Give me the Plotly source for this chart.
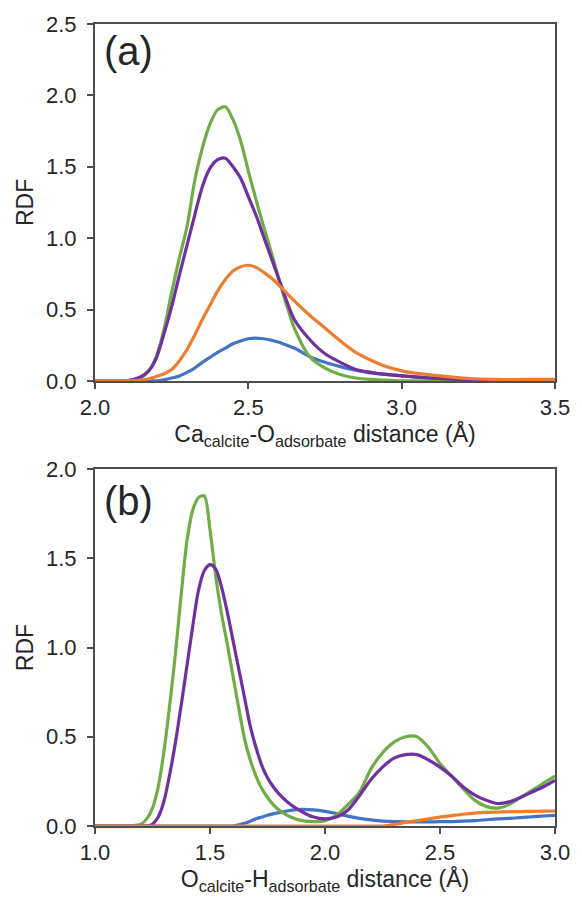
import plotly.graph_objects as go

# ---- Panel (a): Ca(calcite)-O(adsorbate) radial distribution ----
r_ca_o = [2.00, 2.10, 2.15, 2.175, 2.20, 2.225, 2.25, 2.275, 2.30, 2.325, 2.35,
          2.375, 2.40, 2.425, 2.45, 2.475, 2.50, 2.525, 2.55, 2.575, 2.60,
          2.625, 2.65, 2.70, 2.75, 2.80, 2.85, 2.90, 2.95, 3.00, 3.10, 3.20,
          3.30, 3.40, 3.50]
a_green = [0, 0, 0.02, 0.07, 0.17, 0.36, 0.62, 0.86, 1.08, 1.40, 1.63, 1.80,
           1.90, 1.92, 1.83, 1.68, 1.47, 1.27, 1.08, 0.90, 0.71, 0.53, 0.37,
           0.17, 0.09, 0.045, 0.02, 0.01, 0.005, 0, 0, 0, 0, 0, 0]
a_purple = [0, 0, 0.03, 0.07, 0.16, 0.33, 0.52, 0.74, 0.95, 1.16, 1.36, 1.49,
            1.55, 1.56, 1.50, 1.42, 1.29, 1.16, 1.01, 0.86, 0.71, 0.56, 0.43,
            0.29, 0.19, 0.13, 0.08, 0.06, 0.045, 0.035, 0.02, 0.01, 0.005, 0, 0]
a_orange = [0, 0, 0.005, 0.015, 0.03, 0.05, 0.08, 0.14, 0.22, 0.32, 0.43,
            0.53, 0.63, 0.71, 0.77, 0.80, 0.81, 0.795, 0.76, 0.72, 0.67, 0.615,
            0.56, 0.46, 0.37, 0.28, 0.20, 0.145, 0.10, 0.07, 0.04, 0.02, 0.01,
            0.01, 0.01]
a_blue = [0, 0, 0, 0, 0, 0.008, 0.02, 0.035, 0.06, 0.09, 0.13, 0.165, 0.20,
          0.23, 0.26, 0.28, 0.295, 0.30, 0.295, 0.285, 0.27, 0.25, 0.23, 0.17,
          0.13, 0.10, 0.075, 0.055, 0.045, 0.035, 0.02, 0.01, 0.005, 0, 0]

# ---- Panel (b): O(calcite)-H(adsorbate) radial distribution ----
r_o_h = [1.00, 1.10, 1.15, 1.20, 1.225, 1.25, 1.275, 1.30, 1.325, 1.35, 1.375,
         1.40, 1.425, 1.45, 1.475, 1.50, 1.525, 1.55, 1.575, 1.60, 1.625, 1.65,
         1.675, 1.70, 1.725, 1.75, 1.775, 1.80, 1.85, 1.90, 1.95, 2.00, 2.05,
         2.10, 2.15, 2.20, 2.25, 2.30, 2.35, 2.40, 2.45, 2.50, 2.55, 2.60, 2.65,
         2.70, 2.75, 2.80, 2.85, 2.90, 2.95, 3.00]
b_green = [0, 0, 0, 0.01, 0.04, 0.10, 0.22, 0.42, 0.68, 0.97, 1.30, 1.60,
           1.77, 1.84, 1.85, 1.66, 1.40, 1.19, 1.02, 0.84, 0.66, 0.49, 0.37,
           0.28, 0.21, 0.16, 0.12, 0.09, 0.05, 0.03, 0.025, 0.03, 0.06, 0.12,
           0.19, 0.32, 0.41, 0.47, 0.50, 0.50, 0.44, 0.35, 0.28, 0.21, 0.145,
           0.11, 0.10, 0.12, 0.16, 0.20, 0.24, 0.28]
b_purple = [0, 0, 0, 0, 0, 0.01, 0.05, 0.14, 0.29, 0.47, 0.68, 0.90, 1.12,
            1.32, 1.43, 1.465, 1.44, 1.34, 1.20, 1.04, 0.88, 0.72, 0.56, 0.44,
            0.34, 0.27, 0.22, 0.18, 0.12, 0.08, 0.05, 0.04, 0.05, 0.09, 0.17,
            0.26, 0.33, 0.38, 0.40, 0.40, 0.37, 0.33, 0.28, 0.22, 0.175, 0.145,
            0.126, 0.135, 0.16, 0.19, 0.22, 0.255]
b_orange = [0] * 37 + [0.008, 0.02, 0.03, 0.04, 0.05, 0.058, 0.066, 0.072,
                       0.076, 0.078, 0.08, 0.081, 0.082, 0.083, 0.084]
b_blue = [0] * 19 + [0, 0.006, 0.015, 0.027, 0.04, 0.05, 0.06, 0.068, 0.075,
                     0.088, 0.093, 0.09, 0.082, 0.07, 0.055, 0.043, 0.034,
                     0.027, 0.024, 0.023, 0.023, 0.023, 0.024, 0.025, 0.027,
                     0.03, 0.035, 0.04, 0.043, 0.047, 0.052, 0.056, 0.06]

GREEN = "#70AD47"
PURPLE = "#7030A0"
ORANGE = "#ED7D31"
BLUE = "#4472C4"
TEXT = "#262626"
FRAME = "#4d4d4d"
FONT = "Liberation Sans, Arial, sans-serif"

fig = go.Figure()


def add_curves(x, series, xa, ya):
    for ys, col in series:
        fig.add_trace(go.Scatter(
            x=x, y=ys, mode="lines", xaxis=xa, yaxis=ya,
            line=dict(color=col, width=3.2, shape="spline", smoothing=0.8),
            showlegend=False, hoverinfo="skip"))


# draw order: blue, green, purple, orange
add_curves(r_ca_o, [(a_blue, BLUE), (a_green, GREEN), (a_purple, PURPLE),
                    (a_orange, ORANGE)], "x", "y")
add_curves(r_o_h, [(b_blue, BLUE), (b_green, GREEN), (b_purple, PURPLE),
                   (b_orange, ORANGE)], "x2", "y2")

W, H = 582, 898
m_top, m_bot, m_left, m_right = 22, 67, 95, 16
ph = H - m_top - m_bot
top_dom = [(831 - 382) / ph, 1.0]
bot_dom = [0.0, (831 - 471) / ph]

axis_common = dict(
    showline=True, linecolor=FRAME, linewidth=2, mirror=True,
    showgrid=False, zeroline=False, ticks="outside", ticklen=6,
    tickwidth=1.5, tickcolor=FRAME,
    tickfont=dict(family=FONT, size=22, color=TEXT),
)
title_font = dict(family=FONT, size=23, color=TEXT)

fig.update_layout(
    width=W, height=H,
    margin=dict(l=m_left, r=m_right, t=m_top, b=m_bot),
    plot_bgcolor="white", paper_bgcolor="white",
    font=dict(family=FONT, color=TEXT),
    xaxis=dict(axis_common, domain=[0, 1], anchor="y", range=[2.0, 3.5],
               tickvals=[2.0, 2.5, 3.0, 3.5], ticktext=["2.0", "2.5", "3.0", "3.5"],
               title=dict(text="Ca<sub>calcite</sub>-O<sub>adsorbate</sub> distance (Å)",
                          font=title_font, standoff=6)),
    yaxis=dict(axis_common, domain=top_dom, anchor="x", range=[0, 2.5],
               tickvals=[0, 0.5, 1.0, 1.5, 2.0, 2.5],
               ticktext=["0.0", "0.5", "1.0", "1.5", "2.0", "2.5"],
               ticklabelstandoff=6,
               title=dict(text="RDF", font=title_font, standoff=6)),
    xaxis2=dict(axis_common, domain=[0, 1], anchor="y2", range=[1.0, 3.0],
                tickvals=[1.0, 1.5, 2.0, 2.5, 3.0],
                ticktext=["1.0", "1.5", "2.0", "2.5", "3.0"],
                title=dict(text="O<sub>calcite</sub>-H<sub>adsorbate</sub> distance (Å)",
                           font=title_font, standoff=4)),
    yaxis2=dict(axis_common, domain=bot_dom, anchor="x2", range=[0, 2.0],
                tickvals=[0, 0.5, 1.0, 1.5, 2.0],
                ticktext=["0.0", "0.5", "1.0", "1.5", "2.0"],
                ticklabelstandoff=6,
                title=dict(text="RDF", font=title_font, standoff=6)),
    annotations=[
        dict(text="(a)", xref="x domain", yref="y domain", x=0.015, y=0.925,
             xanchor="left", yanchor="middle", showarrow=False,
             font=dict(family=FONT, size=40, color=TEXT)),
        dict(text="(b)", xref="x2 domain", yref="y2 domain", x=0.015, y=0.91,
             xanchor="left", yanchor="middle", showarrow=False,
             font=dict(family=FONT, size=40, color=TEXT)),
    ],
)

fig.write_html("out.html")
